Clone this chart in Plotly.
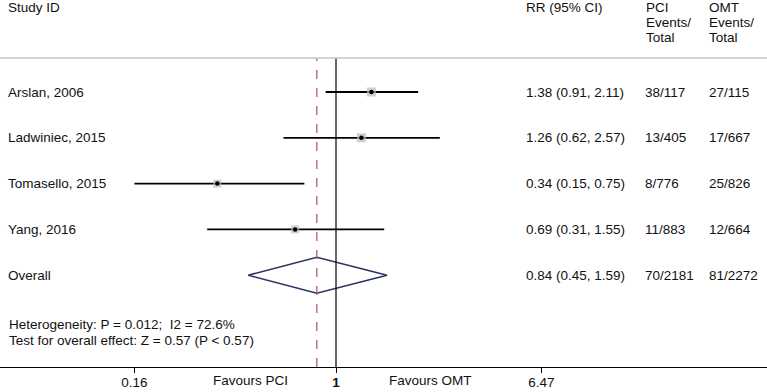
import math
import plotly.graph_objects as go

# ---------------- data ----------------
studies = ["Arslan, 2006", "Ladwiniec, 2015", "Tomasello, 2015", "Yang, 2016"]
rr = [1.38, 1.26, 0.34, 0.69]
rr_lo = [0.91, 0.62, 0.15, 0.31]
rr_hi = [2.11, 2.57, 0.75, 1.55]
pci_events = [38, 13, 8, 11]
pci_total = [117, 405, 776, 883]
omt_events = [27, 17, 25, 12]
omt_total = [115, 667, 826, 664]

overall_label = "Overall"
overall_rr = 0.84
overall_lo = 0.45
overall_hi = 1.59
overall_pci = (70, 2181)
overall_omt = (81, 2272)

tick_vals = [0.16, 1, 6.47]
tick_text = ["0.16", "<b>1</b>", "6.47"]

heterogeneity_text = "Heterogeneity: P = 0.012;\u00a0 I2 = 72.6%"
overall_effect_text = "Test for overall effect: Z = 0.57 (P < 0.57)"

# ---------------- layout helpers ----------------
W, H = 767, 392
B = 25                      # bottom margin (axis line position)
PH = H - B                  # plot-area height in px
ROW0_PX, ROW_STEP = 92, 45.8
FONT = dict(family="Liberation Sans, Arial, sans-serif", size=13.5, color="#111111")

def px_x(p):
    return (p - 2) / W      # compensate annotation padding

def px_y(p):
    return 1 - p / PH

rows = list(range(len(studies)))
overall_row = len(studies)

fig = go.Figure()

# confidence interval lines (clipped at the axis minimum tick)
x_min_shown = tick_vals[0]
for i in rows:
    lo = max(rr_lo[i], x_min_shown)
    fig.add_trace(go.Scatter(x=[lo, rr_hi[i]], y=[i, i], mode="lines",
                             line=dict(color="black", width=1.8),
                             hoverinfo="skip", showlegend=False))

# weight boxes and point estimates
box_sizes = [9, 9, 8, 8]
fig.add_trace(go.Scatter(x=rr, y=rows, mode="markers",
                         marker=dict(symbol="square", size=box_sizes, color="#bcbcbc",
                                     line=dict(width=0)),
                         hoverinfo="skip", showlegend=False))
fig.add_trace(go.Scatter(x=rr, y=rows, mode="markers",
                         marker=dict(symbol="circle", size=4.5, color="black"),
                         hoverinfo="skip", showlegend=False))

# overall diamond
dh = 18 / ROW_STEP
fig.add_trace(go.Scatter(
    x=[overall_lo, overall_rr, overall_hi, overall_rr, overall_lo],
    y=[overall_row, overall_row - dh, overall_row, overall_row + dh, overall_row],
    mode="lines", line=dict(color="#2a3163", width=1.5),
    hoverinfo="skip", showlegend=False))

# reference lines
sep_y = px_y(58)
fig.add_shape(type="line", xref="x", yref="paper", x0=1, x1=1, y0=0, y1=sep_y,
              line=dict(color="black", width=1.2))
fig.add_shape(type="line", xref="x", yref="paper", x0=overall_rr, x1=overall_rr,
              y0=0, y1=sep_y, line=dict(color="#a8685f", width=1.3, dash="dash"))
fig.add_shape(type="line", xref="paper", yref="paper", x0=0, x1=1, y0=sep_y, y1=sep_y,
              line=dict(color="#c6c6c6", width=1.5))

ann = []

def text(x_px, y, s, yref="paper", xanchor="left"):
    ann.append(dict(x=px_x(x_px) if xanchor == "left" else x_px / W, y=y,
                    xref="paper", yref=yref, text=s,
                    showarrow=False, xanchor=xanchor, yanchor="middle", font=FONT))

# header
text(8, px_y(7.5), "Study ID")
text(526, px_y(7.5), "RR (95% CI)")
for j, s in enumerate(["PCI", "Events/", "Total"]):
    text(646, px_y(7.5 + 15 * j), s)
for j, s in enumerate(["OMT", "Events/", "Total"]):
    text(709, px_y(7.5 + 15 * j), s)

# study rows
for i in rows:
    text(8, i, studies[i], yref="y")
    text(526, i, f"{rr[i]:.2f} ({rr_lo[i]:.2f}, {rr_hi[i]:.2f})", yref="y")
    text(645, i, f"{pci_events[i]}/{pci_total[i]}", yref="y")
    text(709, i, f"{omt_events[i]}/{omt_total[i]}", yref="y")

text(8, overall_row, overall_label, yref="y")
text(526, overall_row, f"{overall_rr:.2f} ({overall_lo:.2f}, {overall_hi:.2f})", yref="y")
text(645, overall_row, f"{overall_pci[0]}/{overall_pci[1]}", yref="y")
text(709, overall_row, f"{overall_omt[0]}/{overall_omt[1]}", yref="y")

text(9, px_y(324), heterogeneity_text)
text(9, px_y(340), overall_effect_text)

# favours labels
text(250, px_y(381), "Favours PCI", xanchor="center")
text(430, px_y(381), "Favours OMT", xanchor="center")

# x scale: pixel = 336 + 110 * ln(value)
log_lo = (-336 / 110) / math.log(10)
log_hi = ((W - 336) / 110) / math.log(10)
y_top = (0 - ROW0_PX) / ROW_STEP
y_bot = (PH - ROW0_PX) / ROW_STEP

fig.update_layout(
    width=W, height=H,
    margin=dict(l=0, r=0, t=0, b=B),
    paper_bgcolor="white", plot_bgcolor="white",
    annotations=ann,
    font=FONT,
    xaxis=dict(type="log", range=[log_lo, log_hi], tickvals=tick_vals, ticktext=tick_text,
               ticks="outside", ticklen=5, tickcolor="black", tickwidth=1,
               ticklabelstandoff=-2,
               showgrid=False, zeroline=False, showline=True, linecolor="black",
               linewidth=1, tickfont=FONT, fixedrange=True),
    yaxis=dict(range=[y_bot, y_top], visible=False, fixedrange=True),
)

fig.write_html("out.html", config={"displayModeBar": False},
               post_script="document.body.style.margin='0';document.body.style.overflow='hidden';")
